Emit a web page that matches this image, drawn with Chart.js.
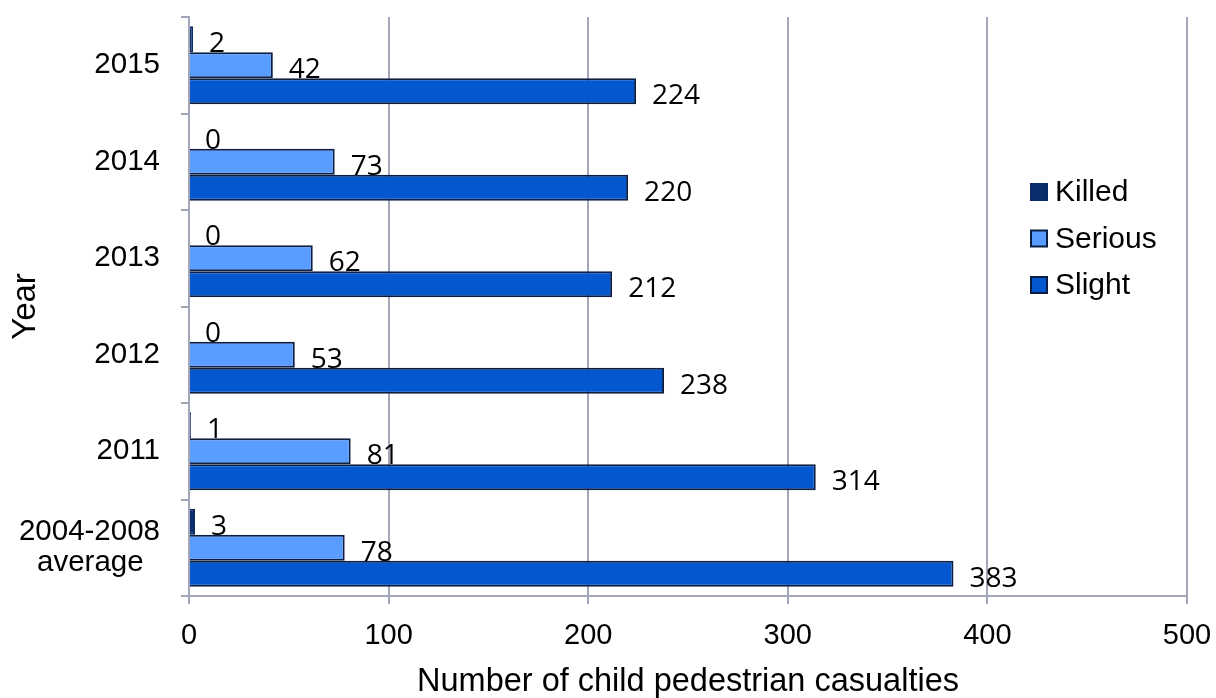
<!DOCTYPE html>
<html>
<head>
<meta charset="utf-8">
<title>Child pedestrian casualties</title>
<script src="https://cdn.jsdelivr.net/npm/chart.js@4"></script>
<style>
  html, body { margin: 0; padding: 0; background: #fff; }
  #wrap { width: 1216px; height: 698px; }
</style>
</head>
<body>
<div id="wrap"><canvas id="casualtyChart" width="1216" height="698"></canvas></div>
<script>
const categories = ['2015', '2014', '2013', '2012', '2011', '2004-2008 average'];
const killed = [2, 0, 0, 0, 1, 3];
const serious = [42, 73, 62, 53, 81, 78];
const slight = [224, 220, 212, 238, 314, 383];
const xTicks = [0, 100, 200, 300, 400, 500];

const axisGrey = '#a3a6b8';
const outline = '#0b1f44';
const sans = '"Liberation Sans", Arial, sans-serif';

// numbers written just past the end of each bar
const valueLabels = {
    id: 'valueLabels',
    afterDatasetsDraw(chart) {
        const ctx = chart.ctx;
        ctx.save();
        ctx.font = '28px "Open Sans", sans-serif';
        ctx.fillStyle = '#000';
        ctx.textAlign = 'left';
        ctx.textBaseline = 'alphabetic';
        chart.data.datasets.forEach((ds, i) => {
            chart.getDatasetMeta(i).data.forEach((bar, j) => {
                ctx.fillText(String(ds.data[j]), bar.x + 16, bar.y + bar.height / 2);
            });
        });
        ctx.restore();
    }
};

// legend sits inside the plot, to the right
const insideLegend = {
    id: 'insideLegend',
    afterDraw(chart) {
        const ctx = chart.ctx;
        const area = chart.chartArea;
        const x = area.right - 157;
        let y = area.top + 175;
        ctx.save();
        ctx.font = '30px ' + sans;
        ctx.textBaseline = 'middle';
        chart.data.datasets.forEach(ds => {
            ctx.fillStyle = ds.borderColor;
            ctx.fillRect(x, y - 9, 18, 18);
            ctx.fillStyle = ds.backgroundColor;
            ctx.fillRect(x + 2, y - 7, 14, 14);
            ctx.fillStyle = '#000';
            ctx.fillText(ds.label, x + 25, y + 1);
            y += 46.5;
        });
        ctx.restore();
    }
};

new Chart(document.getElementById('casualtyChart'), {
    type: 'bar',
    data: {
        labels: categories,
        datasets: [
            { label: 'Killed', data: killed, backgroundColor: '#0a2d6e', borderColor: '#0a2a66', borderWidth: 2 },
            { label: 'Serious', data: serious, backgroundColor: '#589dff', borderColor: outline, borderWidth: 2 },
            { label: 'Slight', data: slight, backgroundColor: '#0358d0', borderColor: outline, borderWidth: 2 }
        ]
    },
    options: {
        indexAxis: 'y',
        responsive: false,
        animation: false,
        datasets: {
            bar: { categoryPercentage: 0.81, barPercentage: 1.0, borderSkipped: 'start' }
        },
        layout: { padding: { left: 0, right: 29, top: 17, bottom: 0 } },
        plugins: {
            legend: { display: false },
            tooltip: { enabled: false }
        },
        scales: {
            x: {
                min: 0,
                max: 500,
                afterBuildTicks(scale) {
                    scale.ticks = xTicks.map(v => ({ value: v }));
                },
                afterFit(scale) {
                    scale.height = 102;
                    scale.paddingLeft = 0;
                    scale.paddingRight = 0;
                },
                grid: { color: axisGrey, lineWidth: 2, tickLength: 8 },
                border: { color: axisGrey, width: 2 },
                ticks: { color: '#000', font: { family: sans, size: 29 }, padding: 15, maxRotation: 0 },
                title: {
                    display: true,
                    text: 'Number of child pedestrian casualties',
                    color: '#000',
                    font: { family: sans, size: 32.5, lineHeight: 1.0 },
                    padding: { top: 0, bottom: 0 }
                }
            },
            y: {
                afterFit(scale) {
                    scale.width = 189;
                    scale.paddingTop = 0;
                    scale.paddingBottom = 0;
                },
                grid: { color: axisGrey, lineWidth: 2, tickLength: 8, drawOnChartArea: false },
                border: { color: axisGrey, width: 2 },
                ticks: {
                    color: '#000',
                    font: { family: sans, size: 29.5, lineHeight: 1.05 },
                    padding: 21,
                    callback(value) {
                        const label = this.getLabelForValue(value);
                        // two-line label, second line nudged toward the centre
                        return label.includes(' ') ? [label.split(' ')[0], label.split(' ')[1] + '  '] : label;
                    }
                },
                title: {
                    display: true,
                    text: 'Year',
                    color: '#000',
                    font: { family: sans, size: 33 },
                    padding: { top: 6, bottom: 0 }
                }
            }
        }
    },
    plugins: [valueLabels, insideLegend]
});
</script>
</body>
</html>
